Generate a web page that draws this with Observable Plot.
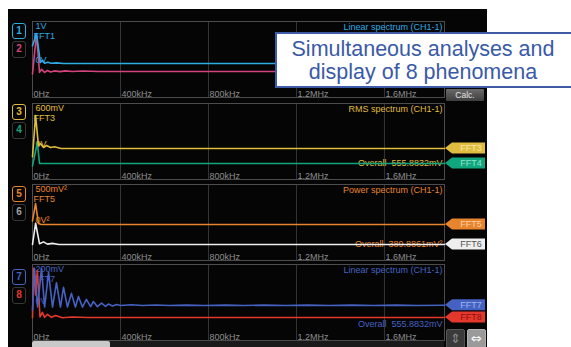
<!DOCTYPE html>
<html><head><meta charset="utf-8">
<script src="https://cdn.jsdelivr.net/npm/d3@7"></script>
<script src="https://cdn.jsdelivr.net/npm/@observablehq/plot@0.6"></script>
<style>
body{margin:0;background:#fff;}
#root{position:relative;width:571px;height:347px;overflow:hidden;background:#fff;font-family:"Liberation Sans",Arial,sans-serif;}
#screen{position:absolute;left:8px;top:9px;width:479px;height:338px;background:#050505;overflow:hidden;}
#screen svg{position:absolute;left:0;}
.box{position:absolute;left:4px;width:14px;box-sizing:border-box;border-radius:3px;font:bold 10px "Liberation Sans",Arial,sans-serif;text-align:center;}
#callout{position:absolute;left:275px;top:32px;width:300px;height:56px;box-sizing:border-box;border:2px solid #3d5ca8;background:#fff;color:#3a5aa7;font:21.5px "Liberation Sans",Arial,sans-serif;line-height:23.5px;text-align:center;padding-top:3.5px;padding-right:4px;z-index:5;}
#calc{position:absolute;left:438px;top:80px;width:38px;height:12px;background:linear-gradient(#6a6a6a,#3e3e3e);color:#e6e6e6;font:8.5px "Liberation Sans",Arial,sans-serif;text-align:center;line-height:13px;border-radius:1px;}
#scroll{position:absolute;left:24px;top:332px;width:78px;height:7px;background:#c9c9c9;border-radius:2px;}
#track{position:absolute;left:24px;top:332px;width:412px;height:7px;background:#1a1a1a;}
.btn{position:absolute;top:320px;width:19px;height:19px;box-sizing:border-box;border-radius:2px;text-align:center;font:13px "DejaVu Sans",sans-serif;line-height:18px;}
</style>
</head><body>
<div id="root">
  <div id="screen"></div>
  <div id="callout">Simultaneous analyses and<br>display of 8 phenomena</div>
</div>
<script>
// ---- data (frequency in kHz, level in % of panel height) ----
const xMaxK = 1873;
const tickF = [0, 400, 800, 1200, 1600];
const tickLabels = ["0Hz", "400kHz", "800kHz", "1.2MHz", "1.6MHz"];

const fft1 = [[0,68],[18,84],[36,46],[45,49],[55,45],[70,46.5],[85,45],[110,45.5],[140,44.7],[1873,44.7]];
const fft2 = [[0,31],[18,83],[32,33],[41,37],[55,33],[68,35.5],[82,33.5],[100,35],[125,34],[150,35],[180,34.2],[230,34.8],[300,34.2],[1873,34.2]];
const fft3 = [[0,30],[14,84],[27,44.7],[36,47.4],[50,42.1],[64,44.7],[82,42],[100,43],[130,40.8],[1873,40.8]];
const fft4 = [[0,18],[22,48.7],[32,21.1],[1873,21.1]];
const fft5 = [[0,52],[14,75],[27,48.7],[40,47.4],[1873,47.4]];
const fft6 = [[0,21],[14,49],[32,22],[50,24.5],[68,21.5],[90,22.5],[120,21],[1873,21]];
const fft7 = [[0,40],[9,95],[23,44],[41,95],[55,44],[73,89.5],[91,44],[109,76],[127,44],[141,70],[159,44],[177,62],[195,44],[209,58],[227,44],[245,54],[264,44.5],[277,51.3],[295,44.5],[314,49.3],[332,45],[345,48],[364,45.5],[382,47.4],[400,46],[450,47],[500,46],[560,46.8],[620,46],[700,46.6],[780,46],[880,46.6],[960,46],[1050,46.5],[1150,46],[1250,46.5],[1350,46],[1450,46.6],[1550,46],[1650,46.5],[1750,46],[1873,46.3]];
const fft8 = [[0,30],[5,95],[14,60],[22,92],[34,31],[45,37],[55,30.5],[68,34.5],[86,30.5],[105,33],[136,30],[180,31],[250,30.3],[1873,30.3]];

const channelNames = ["FFT1","FFT2","FFT3","FFT4","FFT5","FFT6","FFT7","FFT8"];
const channelColors = ["#2faae2","#d3447e","#e0bd3e","#12a67e","#e8842c","#eeeeee","#4562c2","#e5382c"];
const tagTextColors = ["#bfe6f8","#f6c2d6","#f6e7a6","#92e2c8","#fbd0a8","#555555","#9fb4ee","#8a1010"];
const numberColors = ["#2faae2","#d3447e","#e0bd3e","#12a67e","#e8842c","#a0a0a0","#4562c2","#e5382c"];
const panelTitles = ["Linear spectrum (CH1-1)","RMS spectrum (CH1-1)","Power spectrum (CH1-1)","Linear spectrum (CH1-1)"];
const topLabels = ["1V","600mV","500mV\u00b2","200mV"];
const zeroLabels = ["0V","0V","0V\u00b2","0V"];
const overallTexts = [null,"Overall  555.8832mV","Overall  389.8861mV\u00b2","Overall  555.8832mV"];
const showTags = [false, true, true, true];   // panel 1 tags sit behind the callout

const series = [fft1,fft2,fft3,fft4,fft5,fft6,fft7,fft8];
const panelTops = [21,103,184,264];      // absolute top of each panel frame
const boxCenters = [31,112,194,277];     // absolute centre of odd channel box

const screen = document.getElementById("screen");
const font = '"Liberation Sans", Arial, sans-serif';

panelTops.forEach((top, i) => {
  const odd = series[2*i], even = series[2*i+1];
  const cOdd = channelColors[2*i], cEven = channelColors[2*i+1];
  const marks = [
    Plot.ruleX(tickF.slice(1), {stroke: "#363636"}),
    Plot.frame({stroke: "#4c4c4c"}),
    Plot.text(tickF, {x: d => d, text: (d, j) => tickLabels[j], frameAnchor: "bottom", lineAnchor: "bottom", textAnchor: "start", dx: 1, dy: -1, fill: "#8e8e8e", fontSize: 9}),
    Plot.text([panelTitles[i]], {text: d => d, frameAnchor: "top-right", lineAnchor: "top", dx: -2, dy: 2, fill: cOdd, fontSize: 9}),
    Plot.text([topLabels[i]], {text: d => d, frameAnchor: "top-left", lineAnchor: "top", dx: 3, dy: 1, fill: cOdd, fontSize: 9}),
    Plot.text([channelNames[2*i]], {text: d => d, frameAnchor: "top-left", lineAnchor: "top", dx: 1, dy: 11, fill: cOdd, fontSize: 9}),
    Plot.text([zeroLabels[i]], {text: d => d, x: () => 0, y: () => odd[odd.length-1][1], textAnchor: "start", lineAnchor: "bottom", dx: 3, dy: -1, fill: cOdd, fontSize: 9})
  ];
  if (overallTexts[i]) marks.push(Plot.text([overallTexts[i]], {text: d => d, frameAnchor: "bottom-right", lineAnchor: "middle", dx: -2, dy: -16, fill: cOdd, fontSize: 9}));
  marks.push(Plot.line(even, {x: d => d[0], y: d => d[1], stroke: cEven, strokeWidth: 1.6}));
  marks.push(Plot.line(odd, {x: d => d[0], y: d => d[1], stroke: cOdd, strokeWidth: 1.6}));

  const plot = Plot.plot({
    width: 479, height: 78,
    marginTop: 1, marginBottom: 1, marginLeft: 24, marginRight: 43,
    style: {background: "transparent", overflow: "visible", fontFamily: font, fontSize: "9px"},
    x: {domain: [0, xMaxK], axis: null},
    y: {domain: [0, 100], axis: null},
    marks
  });
  plot.style.top = (top - 9 - 1) + "px";
  screen.appendChild(plot);

  // right-hand channel tags, placed with the panel's y scale
  if (showTags[i]) {
    const ys = plot.scale("y");
    const svg = d3.select(plot);
    [2*i, 2*i+1].forEach(k => {
      const s = series[k];
      const yy = ys.apply(s[s.length-1][1]);
      const x0 = 437, x1 = 477, h = 5.5;
      svg.append("path")
        .attr("d", `M${x0},${yy}L${x0+7},${yy-h}H${x1}V${yy+h}H${x0+7}Z`)
        .attr("fill", channelColors[k]);
      svg.append("text").attr("x", 463).attr("y", yy).attr("dy", "0.35em")
        .attr("text-anchor", "middle").attr("fill", tagTextColors[k])
        .attr("font-size", 9).attr("font-family", font).text(channelNames[k]);
    });
  }

  // channel number boxes
  const c = boxCenters[i] - 9;
  const b1 = document.createElement("div");
  b1.className = "box";
  b1.style.cssText = `top:${c-8}px;height:16px;border:1.5px solid ${channelColors[2*i]};color:${numberColors[2*i]};line-height:13px;`;
  b1.textContent = String(2*i+1);
  const b2 = document.createElement("div");
  b2.className = "box";
  b2.style.cssText = `top:${c+10}px;height:17px;border:1.5px solid #383838;color:${numberColors[2*i+1]};line-height:14px;`;
  b2.textContent = String(2*i+2);
  screen.appendChild(b1); screen.appendChild(b2);
});

// screen chrome
screen.insertAdjacentHTML("beforeend",
  '<div id="calc">Calc.</div><div id="track"></div><div id="scroll"></div>' +
  '<div class="btn" style="left:438px;background:#3a3a3a;border:1px solid #555;color:#8a8a8a;">\u21d5</div>' +
  '<div class="btn" style="left:459px;background:#9a9a9a;border:1px solid #b0b0b0;color:#fff;">\u21d4</div>');
</script>
</body></html>
